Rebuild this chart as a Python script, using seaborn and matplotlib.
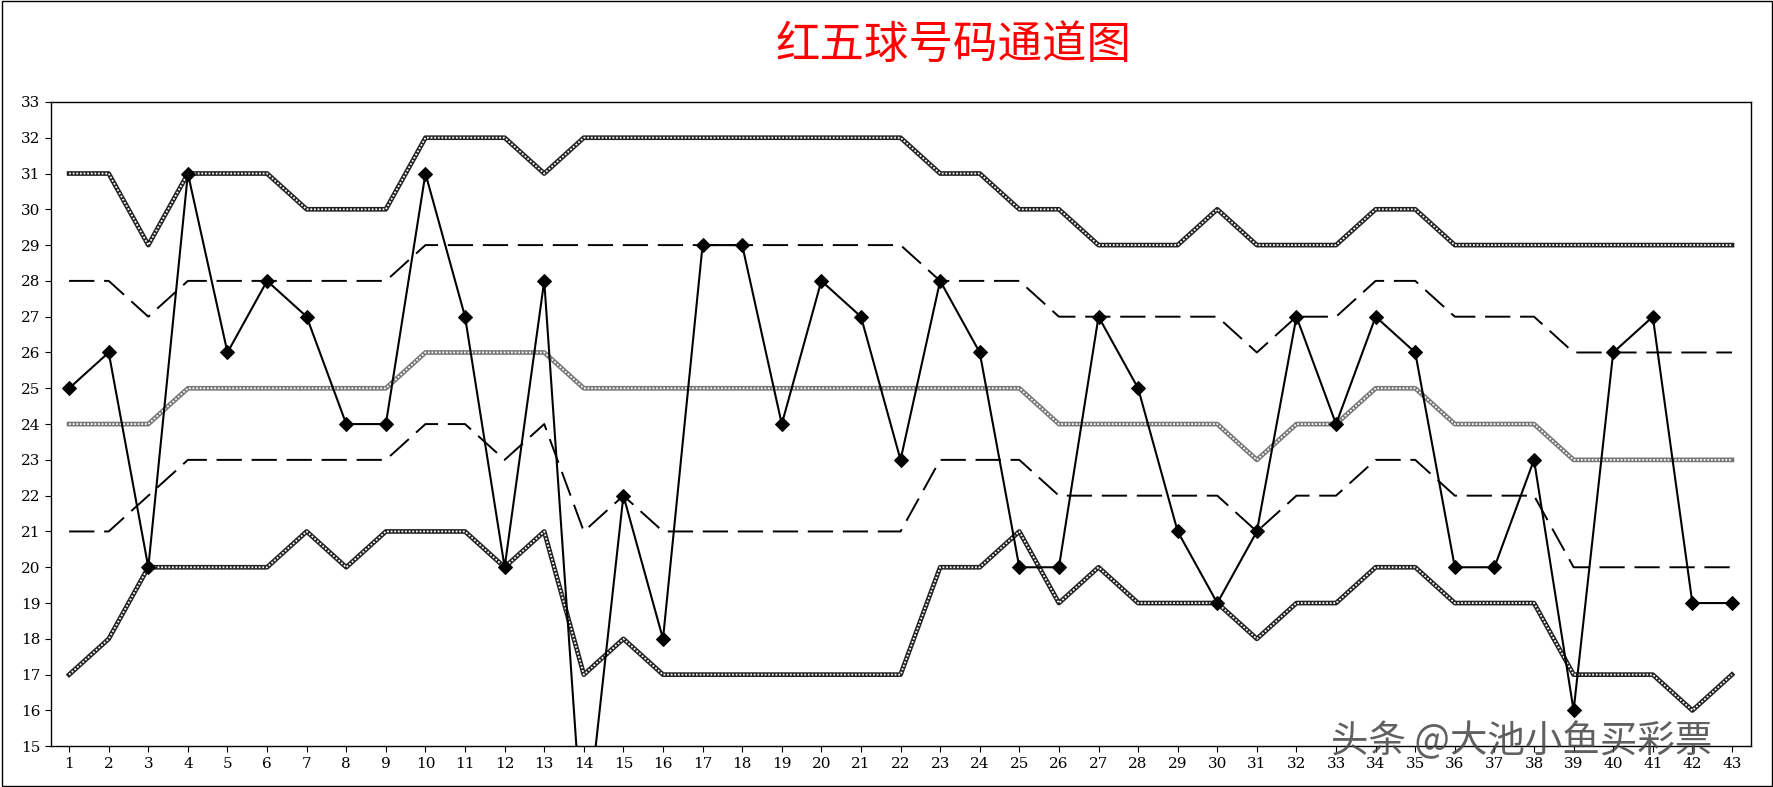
import pandas as pd
import matplotlib.pyplot as plt
import seaborn as sns

# draw numbers (issue 1..43)
issues = list(range(1, 44))
red5 = [25, 26, 20, 31, 26, 28, 27, 24, 24, 31, 27, 20, 28, 12, 22, 18, 29, 29, 24, 28, 27, 23,
        28, 26, 20, 20, 27, 25, 21, 19, 21, 27, 24, 27, 26, 20, 20, 23, 16, 26, 27, 19, 19]
upper = [31, 31, 29, 31, 31, 31, 30, 30, 30, 32, 32, 32, 31, 32, 32, 32, 32, 32, 32, 32, 32, 32,
         31, 31, 30, 30, 29, 29, 29, 30, 29, 29, 29, 30, 30, 29, 29, 29, 29, 29, 29, 29, 29]
upper_mid = [28, 28, 27, 28, 28, 28, 28, 28, 28, 29, 29, 29, 29, 29, 29, 29, 29, 29, 29, 29, 29, 29,
             28, 28, 28, 27, 27, 27, 27, 27, 26, 27, 27, 28, 28, 27, 27, 27, 26, 26, 26, 26, 26]
middle = [24, 24, 24, 25, 25, 25, 25, 25, 25, 26, 26, 26, 26, 25, 25, 25, 25, 25, 25, 25, 25, 25,
          25, 25, 25, 24, 24, 24, 24, 24, 23, 24, 24, 25, 25, 24, 24, 24, 23, 23, 23, 23, 23]
lower_mid = [21, 21, 22, 23, 23, 23, 23, 23, 23, 24, 24, 23, 24, 21, 22, 21, 21, 21, 21, 21, 21, 21,
             23, 23, 23, 22, 22, 22, 22, 22, 21, 22, 22, 23, 23, 22, 22, 22, 20, 20, 20, 20, 20]
lower = [17, 18, 20, 20, 20, 20, 21, 20, 21, 21, 21, 20, 21, 17, 18, 17, 17, 17, 17, 17, 17, 17,
         20, 20, 21, 19, 20, 19, 19, 19, 18, 19, 19, 20, 20, 19, 19, 19, 17, 17, 17, 16, 17]

plt.rcParams['font.family'] = ['Noto Sans CJK SC', 'DejaVu Sans']

df = pd.DataFrame({'issue': issues, 'red5': red5, 'upper': upper, 'upper_mid': upper_mid,
                   'middle': middle, 'lower_mid': lower_mid, 'lower': lower})

W, H = 1568, 695  # reference layout measured at this scale
fig = plt.figure(figsize=(17.74, 7.87), dpi=100)
ax = fig.add_axes([45 / W, 1 - 659 / H, 1503 / W, 569 / H])

# textured channel lines: dark band with white dots
for col, c in [('upper', '#222222'), ('lower', '#222222'), ('middle', '#777777')]:
    sns.lineplot(data=df, x='issue', y=col, ax=ax, color=c, lw=3.4, zorder=2)
    sns.lineplot(data=df, x='issue', y=col, ax=ax, color='white', lw=1.3,
                 linestyle=(0, (1, 1)), zorder=3)
for col in ['upper_mid', 'lower_mid']:
    sns.lineplot(data=df, x='issue', y=col, ax=ax, color='black', lw=1.4,
                 linestyle=(0, (13, 5)), zorder=2)
sns.lineplot(data=df, x='issue', y='red5', ax=ax, color='black', lw=1.5,
             marker='D', markersize=7.5, markeredgecolor='black', zorder=4)

ax.set_xlim(0.54, 43.49)
ax.set_ylim(15, 33)
ax.set_xticks(issues)
ax.set_yticks(range(15, 34))
ax.tick_params(labelsize=11, length=4, direction='out')
for lab in ax.get_xticklabels() + ax.get_yticklabels():
    lab.set_family('DejaVu Serif')
ax.set_xlabel('')
ax.set_ylabel('')
for s in ax.spines.values():
    s.set_linewidth(1.0)
    s.set_color('black')

fig.text(843 / W, 1 - 40 / H, '红五球号码通道图', color='#ff0000', fontsize=32,
         ha='center', va='center')
fig.text(1345 / W, 1 - 655 / H, '头条 @大池小鱼买彩票', color='#444444', fontsize=27,
         ha='center', va='center', alpha=0.85)
fig.patches.append(plt.Rectangle((0.001, 0.001), 0.998, 0.998, transform=fig.transFigure,
                                 fill=False, edgecolor='black', lw=1))

plt.savefig('out.png', dpi=100)
